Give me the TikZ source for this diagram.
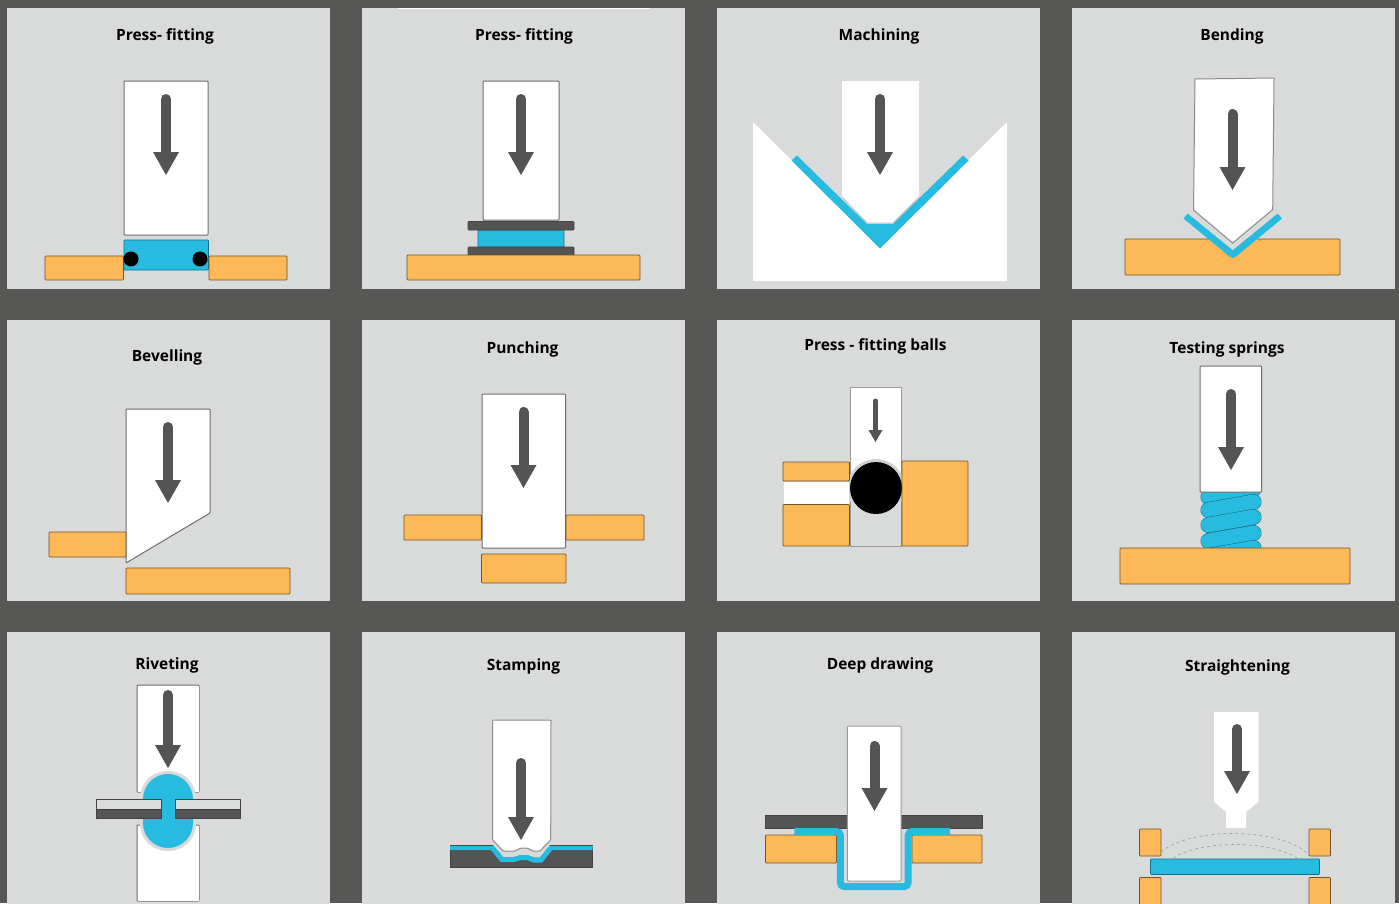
\documentclass[tikz,border=0pt]{standalone}
\usepackage{fontspec}
\setmainfont{Open Sans}

\definecolor{frameGray}{HTML}{575756}
\definecolor{panelGray}{HTML}{D9DADA}
\definecolor{partOrange}{HTML}{FDB957}
\definecolor{partBlue}{HTML}{28BBE0}
\definecolor{plateDark}{HTML}{545454}
\definecolor{edgeGray}{HTML}{6E6E6E}

\tikzset{
  panel/.style={fill=panelGray},
  title/.style={font=\fontsize{15.5}{18}\selectfont\bfseries, text=black, inner sep=0pt},
  punch/.style={fill=white, draw=edgeGray, line width=1pt, rounded corners=0.8pt},
  work/.style={fill=partOrange, draw=partOrange!45!black, line width=0.7pt, rounded corners=0.8pt},
  blue/.style={fill=partBlue, draw=partBlue!60!black, line width=0.7pt, rounded corners=0.8pt},
  plate/.style={fill=plateDark, draw=plateDark!80!black, line width=0.7pt, rounded corners=0.8pt},
  arrowshaft/.style={draw=plateDark, line width=10pt, line cap=round},
}

\newcommand{\pressarrow}[3]{
  \draw[arrowshaft] (#1,#2+5) -- (#1,#3-20);
  \fill[plateDark] (#1-13,#3-23) -- (#1+13,#3-23) -- (#1,#3) -- cycle;
}

\begin{document}
\begin{tikzpicture}[x=1pt, y=-1pt]
\useasboundingbox (0,0) rectangle (1399,903);
\fill[frameGray] (0,0) rectangle (1399,903);
\foreach \px in {7,362,717,1072}
  \foreach \py in {8,320,632}
    \fill[panel] (\px,\py) rectangle +(323,281);
\draw[white, line width=0.8pt] (398,8.5) -- (650,8.5);

% first row
\node[title] (pressA) at (165,36) {Press- fitting};
\draw[punch] (124,81) rectangle (208,235);
\pressarrow{166}{94}{175}
\draw[blue] (124,240) rectangle (208.5,270);
\draw[work] (45,256) rectangle (123.5,280);
\draw[work] (209,256) rectangle (287,280);
\fill (131,259) circle (7.5);
\fill (200,259) circle (7.5);

\node[title] (pressB) at (524,36) {Press- fitting};
\draw[punch] (483,81) rectangle (559,220);
\pressarrow{521}{94}{175}
\draw[blue] (478,230) rectangle (564,247);
\draw[plate] (468,221.5) rectangle (574,230);
\draw[plate] (468,247) rectangle (574,255);
\draw[work] (407,255) rectangle (640,280);

\node[title] (machining) at (879,36) {Machining};
\fill[white] (753,122) -- (880,248) -- (1007,122) -- (1007,281) -- (753,281) -- cycle;
\fill[white] (842,81) -- (919,81) -- (919,197) -- (893,223) -- (867,223) -- (842,197) -- cycle;
\draw[panelGray!90!black, line width=1pt] (842,197) -- (867,223) -- (893,223) -- (919,197);
\fill[partBlue] (791.5,160.5) -- (797,155.5) -- (867,224) -- (893,224) -- (963,155.5) -- (968.5,160.5) -- (880,248.5) -- cycle;
\pressarrow{880}{94}{175}

\node[title] (bending) at (1232,36) {Bending};
\draw[work] (1125,239) rectangle (1340,275);
\fill[partBlue] (1183.5,218.5) -- (1188,213.5) -- (1232.7,250) -- (1277.5,213.5) -- (1282,218.5)
  -- (1236,256.5) -- (1232.7,258) -- (1229.5,256.5) -- cycle;
\fill[panelGray] (1188,213.5) -- (1232.7,250) -- (1277.5,213.5) -- (1232.7,200) -- cycle;
\draw[fill=white, draw=edgeGray!80, line width=1pt] (1195,79) -- (1274,78) -- (1272.7,209.5) -- (1232.7,243) -- (1193.5,210) -- cycle;
\pressarrow{1232.5}{109}{190}

% second row
\node[title] (bevelling) at (167,357) {Bevelling};
\draw[punch] (126,409) -- (210,409) -- (210,513) -- (126,563) -- cycle;
\pressarrow{168}{422}{503}
\draw[work] (49,532) rectangle (126,557);
\draw[work] (126,568) rectangle (290,594);

\node[title] (punching) at (522.5,349) {Punching};
\draw[punch] (482,394) rectangle (565.5,548);
\pressarrow{523.5}{407}{488}
\draw[work] (404,515) rectangle (481.5,540);
\draw[work] (566,515) rectangle (644,540);
\draw[work] (481.5,554) rectangle (566,583);

\node[title] (balls) at (875.5,346) {Press - fitting balls};
\fill[white] (850,387.5) rectangle (901,490);
\draw[edgeGray!70, line width=0.8pt] (850,546) -- (850,387.5) -- (901,387.5) -- (901,546) -- (850,546);
\fill[panelGray!96!black] (876,488) circle (29);
\fill[panelGray] (851,488) rectangle (901,545.5);
\fill (876,488) circle (26);
\draw[plateDark, line width=5pt, line cap=round] (875.5,401) -- (875.5,432);
\fill[plateDark] (868.5,430) -- (882.5,430) -- (875.5,442) -- cycle;
\draw[work] (783,462) rectangle (849.5,481);
\fill[white] (783.5,481.5) rectangle (849,504);
\draw[work] (783,504.5) rectangle (849.5,546);
\draw[work] (902,461) rectangle (968,546);

\node[title] (springs) at (1227,349) {Testing springs};
\begin{scope}
  \clip (1190,492) rectangle (1272,548);
  \foreach \yl in {497,510,525,541,556} {
    \draw[partBlue!55!black, line width=16pt, line cap=round] (1208.5,\yl) -- (1253.5,\yl-8);
    \draw[partBlue, line width=15pt, line cap=round] (1208.5,\yl) -- (1253.5,\yl-8);
  }
\end{scope}
\draw[punch] (1200,366) rectangle (1261.5,492);
\pressarrow{1231}{389}{470}
\draw[work] (1120,548) rectangle (1350,584);

% third row
\node[title] (riveting) at (167,665) {Riveting};
\draw[punch] (142,792) -- (137,792) -- (137,685) -- (199,685) -- (199,792) -- (194,792);
\fill[white] (137.5,685.5) rectangle (198.5,791.5);
\draw[punch] (142,825) -- (137,825) -- (137,901) -- (199,901) -- (199,825) -- (194,825);
\fill[white] (137.5,825.5) rectangle (198.5,900.5);
\fill[panelGray, rounded corners=27pt] (140,771) rectangle (196,851);
\fill[partBlue, rounded corners=25pt] (143,774) rectangle (193,848);
\pressarrow{168}{690}{768}
\draw[fill=panelGray!95!white, draw=plateDark!80!black, line width=0.7pt] (96.5,799.5) rectangle (161,818.5);
\draw[fill=panelGray!95!white, draw=plateDark!80!black, line width=0.7pt] (175,799.5) rectangle (240,818.5);
\draw[plate, rounded corners=0pt] (96.5,809) rectangle (161,818.5);
\draw[plate, rounded corners=0pt] (175,809) rectangle (240,818.5);

\node[title] (stamping) at (523.5,666) {Stamping};
\draw[plate, rounded corners=0pt] (450,847) rectangle (592.7,867);
\fill[panelGray] (493,838) -- (493,845) -- (503,857) -- (514,857) -- (520.7,855) -- (527,855) -- (534,857.5) -- (540,857.5) -- (550,845) -- (550,838) -- cycle;
\draw[partBlue, line width=5pt] (450,847.5) -- (492,847.5) -- (502,859.5) -- (514,859.5) -- (520.7,857.5) -- (527,857.5) -- (534,860) -- (541,860) -- (551,847.5) -- (592.7,847.5);
\draw[plateDark!80!black, line width=0.6pt] (450,845) -- (493,845);
\draw[plateDark!80!black, line width=0.6pt] (550,845) -- (592.7,845);
\draw[punch, draw=edgeGray!80] (492.7,720) -- (551,720) -- (550.7,840) -- (540,851) -- (533,851) -- (527,848) -- (521,848) -- (515,851) -- (503,851) -- (492.7,840) -- cycle;
\pressarrow{521}{758}{840}

\node[title] (deep) at (880,665) {Deep drawing};
\draw[plate, rounded corners=0pt] (765.5,815) rectangle (847,828);
\draw[plate, rounded corners=0pt] (901,815) rectangle (982,828);
\draw[work] (765.5,835) rectangle (836.5,863);
\draw[work] (912,835) rectangle (982,863);
\draw[partBlue, line width=7pt, rounded corners=4pt] (794.3,831.5) -- (840.3,831.5) -- (840.3,886.5) -- (908.2,886.5) -- (908.2,831.5) -- (950,831.5);
\draw[fill=white, draw=edgeGray!70, line width=1pt, rounded corners=1pt] (847.3,726) -- (901,726) -- (901,881) -- (847.3,881) -- cycle;
\pressarrow{874.5}{741}{811}

\node[title] (straight) at (1237.5,667) {Straightening};
\draw[work] (1139.5,829) rectangle (1161,856);
\draw[work] (1309,829) rectangle (1330.5,856);
\draw[work] (1139.5,877.5) rectangle (1161,910);
\draw[work] (1309,877.5) rectangle (1330.5,910);
\draw[blue] (1150.5,859) rectangle (1319.5,874.5);
\draw[gray!80, line width=0.6pt, dashed] (1161,852) .. controls (1190,827) and (1280,827) .. (1308,854);
\draw[gray!80, line width=0.6pt, dashed] (1173,858) .. controls (1200,840) and (1270,840) .. (1297,858);
\fill[white] (1214,712) -- (1258.7,712) -- (1258.7,801.7) -- (1246,812) -- (1246,828) -- (1226,828) -- (1226,812) -- (1214,801.7) -- cycle;
\pressarrow{1237}{724}{794}
\end{tikzpicture}
\end{document}
